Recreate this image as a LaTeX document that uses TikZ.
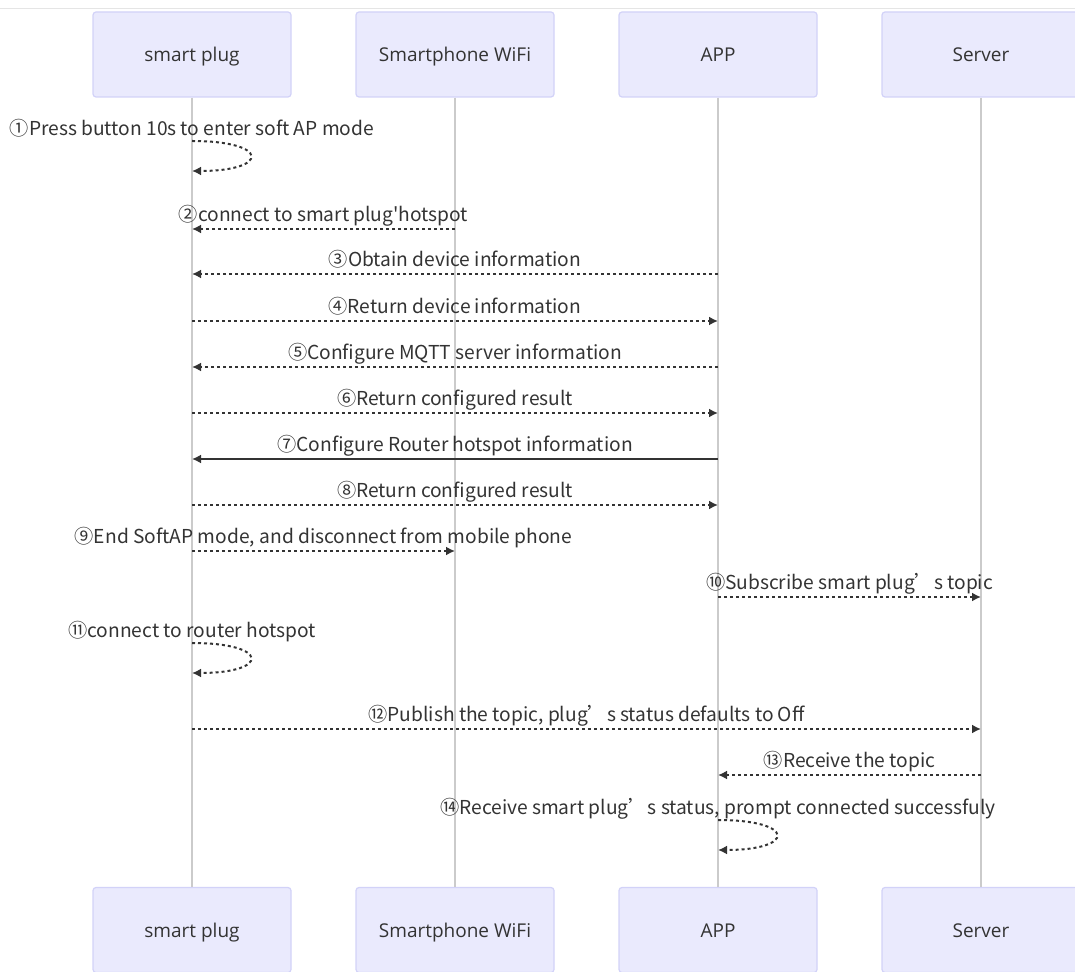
\documentclass[tikz,border=0pt]{standalone}
\usepackage{fontspec}
\usepackage{xcolor}
\usepackage{tikz}
\usetikzlibrary{arrows.meta, positioning, calc}
\setmainfont{Open Sans}
\newfontfamily\cjk{Noto Sans CJK SC}
\definecolor{actorfill}{HTML}{EAEAFD}
\definecolor{actordraw}{HTML}{D2D2F8}
\definecolor{lifegray}{HTML}{CBCBCB}
\definecolor{msggray}{HTML}{333333}

\tikzset{
  actor/.style={draw=actordraw, fill=actorfill, rounded corners=1.5pt, line width=0.6pt,
    minimum width=99pt, minimum height=42.5pt, text=msggray, font=\fontsize{9.5}{11}\selectfont,
    text height=8pt, text depth=1pt},
  life/.style={draw=lifegray, line width=0.6pt},
  msg/.style={draw=msggray, line width=1pt, dash pattern=on 1.5pt off 1.5pt,
    -{Latex[length=4.5pt,width=4.5pt]}},
  syncmsg/.style={msg, solid},
  lbl/.style={text=msggray, font=\cjk\fontsize{9.6}{11}\selectfont, inner sep=0pt,
    text height=7pt, text depth=2pt}
}

\begin{document}
\begin{tikzpicture}[x=0.5pt, y=-0.5pt]
\clip (0,0) rectangle (1075,972);
\pgfmathsetmacro{\plugx}{192}
\pgfmathsetmacro{\wifix}{455}
\pgfmathsetmacro{\appx}{718}
\pgfmathsetmacro{\srvx}{981}
\pgfmathsetmacro{\topy}{54.5}
\pgfmathsetmacro{\boty}{930}

\draw[lifegray!50] (0,8) -- (1075,8);

% actors, top and bottom
\node[actor] (plugT) at (\plugx,\topy) {smart plug};
\node[actor] (wifiT) at (\wifix,\topy) {Smartphone WiFi};
\node[actor] (appT) at (\appx,\topy) {APP};
\node[actor] (srvT) at (\srvx,\topy) {Server};
\node[actor] (plugB) at (\plugx,\boty) {smart plug};
\node[actor] (wifiB) at (\wifix,\boty) {Smartphone WiFi};
\node[actor] (appB) at (\appx,\boty) {APP};
\node[actor] (srvB) at (\srvx,\boty) {Server};

% lifelines
\draw[life] (plugT) -- (plugB);
\draw[life] (wifiT) -- (wifiB);
\draw[life] (appT) -- (appB);
\draw[life] (srvT) -- (srvB);

% message end points
\coordinate (m1a) at (\plugx,141); \coordinate (m1b) at (\plugx,171);
\coordinate (m2a) at (\wifix,229); \coordinate (m2b) at (\plugx,229);
\coordinate (m3a) at (\appx,274);  \coordinate (m3b) at (\plugx,274);
\coordinate (m4a) at (\plugx,321); \coordinate (m4b) at (\appx,321);
\coordinate (m5a) at (\appx,367);  \coordinate (m5b) at (\plugx,367);
\coordinate (m6a) at (\plugx,413); \coordinate (m6b) at (\appx,413);
\coordinate (m7a) at (\appx,459);  \coordinate (m7b) at (\plugx,459);
\coordinate (m8a) at (\plugx,505); \coordinate (m8b) at (\appx,505);
\coordinate (m9a) at (\plugx,551); \coordinate (m9b) at (\wifix,551);
\coordinate (m10a) at (\appx,597); \coordinate (m10b) at (\srvx,597);
\coordinate (m11a) at (\plugx,643); \coordinate (m11b) at (\plugx,673);
\coordinate (m12a) at (\plugx,729); \coordinate (m12b) at (\srvx,729);
\coordinate (m13a) at (\srvx,775); \coordinate (m13b) at (\appx,775);
\coordinate (m14a) at (\appx,820); \coordinate (m14b) at (\appx,850);

% messages
\draw[msg] (m1a) .. controls +(78,0) and +(78,0) .. (m1b);
\node[lbl, above=0.5pt] (l1) at (m1a) {①Press button 10s to enter soft AP mode};
\draw[msg] (m2a) -- node[lbl, midway, above=1.3pt] (l2) {②connect to smart plug'hotspot} (m2b);
\draw[msg] (m3a) -- node[lbl, midway, above=1.3pt] (l3) {③Obtain device information} (m3b);
\draw[msg] (m4a) -- node[lbl, midway, above=1.3pt] (l4) {④Return device information} (m4b);
\draw[msg] (m5a) -- node[lbl, midway, above=1.3pt] (l5) {⑤Configure MQTT server information} (m5b);
\draw[msg] (m6a) -- node[lbl, midway, above=1.3pt] (l6) {⑥Return configured result} (m6b);
\draw[syncmsg] (m7a) -- node[lbl, midway, above=1.3pt] (l7) {⑦Configure Router hotspot information} (m7b);
\draw[msg] (m8a) -- node[lbl, midway, above=1.3pt] (l8) {⑧Return configured result} (m8b);
\draw[msg] (m9a) -- node[lbl, midway, above=1.3pt] (l9) {⑨End SoftAP mode, and disconnect from mobile phone} (m9b);
\draw[msg] (m10a) -- node[lbl, midway, above=1.3pt] (l10) {⑩Subscribe smart plug’s topic} (m10b);
\draw[msg] (m11a) .. controls +(78,0) and +(78,0) .. (m11b);
\node[lbl, above=0.5pt] (l11) at (m11a) {⑪connect to router hotspot};
\draw[msg] (m12a) -- node[lbl, midway, above=1.3pt] (l12) {⑫Publish the topic, plug’s status defaults to Off} (m12b);
\draw[msg] (m13a) -- node[lbl, midway, above=1.3pt] (l13) {⑬Receive the topic} (m13b);
\draw[msg] (m14a) .. controls +(78,0) and +(78,0) .. (m14b);
\node[lbl, above=0.5pt] (l14) at (m14a) {⑭Receive smart plug’s status, prompt connected successfuly};
\end{tikzpicture}
\end{document}
